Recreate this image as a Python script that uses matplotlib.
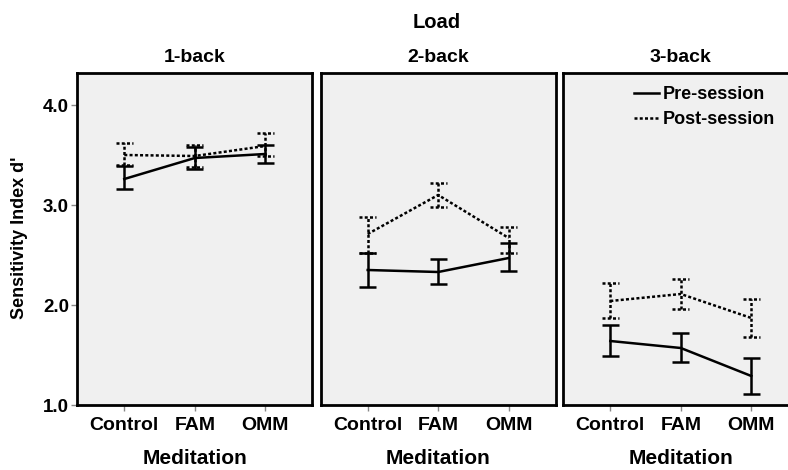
import matplotlib
matplotlib.use("Agg")
import matplotlib.pyplot as plt
import numpy as np

plt.rcParams['font.family'] = ['Liberation Sans', 'DejaVu Sans']
plt.rcParams['font.weight'] = 'bold'

categories = ["Control", "FAM", "OMM"]
loads = ["1-back", "2-back", "3-back"]

pre_mean = [[3.26, 3.47, 3.51], [2.35, 2.33, 2.47], [1.64, 1.57, 1.29]]
pre_hi   = [[3.39, 3.58, 3.60], [2.52, 2.46, 2.62], [1.80, 1.72, 1.47]]
pre_lo   = [[3.16, 3.36, 3.42], [2.18, 2.21, 2.34], [1.49, 1.43, 1.11]]

post_mean = [[3.50, 3.49, 3.59], [2.71, 3.10, 2.67], [2.04, 2.11, 1.87]]
post_hi   = [[3.62, 3.60, 3.72], [2.88, 3.22, 2.78], [2.22, 2.26, 2.06]]
post_lo   = [[3.40, 3.38, 3.49], [2.52, 2.98, 2.52], [1.87, 1.96, 1.68]]

yticks = [1.0, 2.0, 3.0, 4.0]
ytick_labels = ["1.0", "2.0", "3.0", "4.0"]

W, H = 788, 470
fig = plt.figure(figsize=(W / 100, H / 100), dpi=100)
fig.patch.set_facecolor('white')

lefts_px = [77.3, 320.7, 563.3]
width_px = 235
top_px, bottom_px = 73.3, 405
dotted = (0, (1.2, 0.9))
lw = 1.8
cap_w = 0.12

x = np.arange(len(categories))
for i, load in enumerate(loads):
    ax = fig.add_axes([lefts_px[i] / W, 1 - bottom_px / H, width_px / W, (bottom_px - top_px) / H])
    ax.set_facecolor('#f0f0f0')
    for sp in ax.spines.values():
        sp.set_linewidth(2.0)
        sp.set_color('black')
    ax.set_xlim(-2 / 3, 2 + 2 / 3)
    ax.set_ylim(1.0, 4.317)

    for mean, lo, hi, ls in [(pre_mean[i], pre_lo[i], pre_hi[i], '-'),
                             (post_mean[i], post_lo[i], post_hi[i], dotted)]:
        ax.plot(x, mean, color='black', lw=lw, linestyle=ls, zorder=3)
        ax.vlines(x, lo, hi, colors='black', lw=lw, linestyles=ls, zorder=3)
        ax.hlines(lo, x - cap_w, x + cap_w, colors='black', lw=lw, linestyles=ls, zorder=3)
        ax.hlines(hi, x - cap_w, x + cap_w, colors='black', lw=lw, linestyles=ls, zorder=3)

    ax.set_xticks(x)
    ax.set_xticklabels(categories, fontsize=14, fontweight='bold')
    ax.tick_params(axis='x', length=4, width=1, color='#888888', pad=5)
    if i == 0:
        ax.set_yticks(yticks)
        ax.set_yticklabels(ytick_labels, fontsize=13.5, fontweight='bold')
        ax.tick_params(axis='y', length=4, width=1, color='#888888', pad=2)
    else:
        ax.set_yticks([])

    ax.text(0.5, 1 + 16 / (bottom_px - top_px), load, transform=ax.transAxes,
            ha='center', va='center', fontsize=14, fontweight='bold')
    cx = (lefts_px[i] + width_px / 2) / W
    fig.text(cx, 1 - 458 / H, "Meditation", ha='center', va='center',
             fontsize=15, fontweight='bold')

    if i == 2:
        ax.plot([], [], color='black', lw=lw, linestyle='-', label='Pre-session')
        ax.plot([], [], color='black', lw=lw, linestyle=dotted, label='Post-session')
        ax.legend(loc='upper left', bbox_to_anchor=(634 / W, 1 - 86 / H),
                  bbox_transform=fig.transFigure, frameon=False,
                  prop={'size': 13, 'weight': 'bold'}, handlelength=1.4,
                  handletextpad=0.2, labelspacing=0.45, borderpad=0, borderaxespad=0)

fig.text(437 / W, 1 - 22 / H, "Load", ha='center', va='center', fontsize=14.5, fontweight='bold')
fig.text(20 / W, 1 - 238 / H, "Sensitivity Index d'", ha='center', va='center',
         rotation=90, fontsize=13, fontweight='bold')

fig.savefig("out.png", dpi=100)
